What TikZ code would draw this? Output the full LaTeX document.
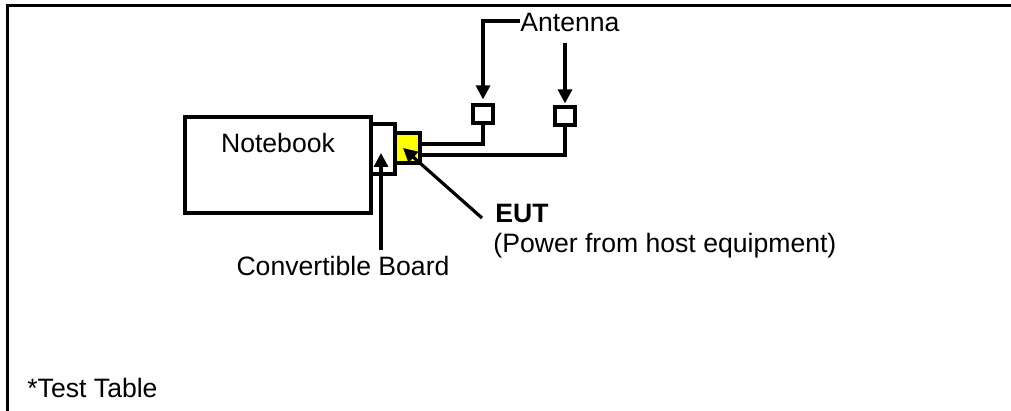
\documentclass[tikz,border=0pt]{standalone}
\usepackage{fontspec}
\setmainfont{Liberation Sans}
\usetikzlibrary{positioning,arrows.meta}
\definecolor{eutyellow}{RGB}{255,255,0}

\begin{document}
\begin{tikzpicture}[
    x=0.5pt, y=-0.5pt,
    font=\fontsize{13.3}{15}\selectfont,
    box/.style={draw, line width=1.6pt, fill=white, inner sep=0pt},
    lbl/.style={inner sep=0pt, align=left},
    wire/.style={line width=1.6pt},
    arr/.style={-{Triangle[length=7pt,width=7pt]}, line width=1.6pt},
]
\useasboundingbox (0,0) rectangle (1011,411);
% test table edge
\draw[line width=1.7pt] (1011,5.5) -- (7.5,5.5) -- (7.5,411);

\node[box, minimum width=93pt, minimum height=48pt] (notebook) at (278,165) {};
\node[box, minimum width=12pt, minimum height=25pt] (board) at (383,149) {};
\node[box, fill=eutyellow, minimum width=12.5pt, minimum height=15pt] (eut) at (407.5,148) {};
\node[box, minimum width=10pt, minimum height=9pt] (antA) at (483,114) {};
\node[box, minimum width=10pt, minimum height=9pt] (antB) at (565,116) {};

\node[lbl, anchor=base] (nbtext) at (278,153) {Notebook};
\node[lbl, anchor=base west] (anttext) at (520,32) {Antenna};
\node[lbl, anchor=base] (boardtext) at (343,275) {Convertible Board};
\node[lbl, anchor=base west] (euttext) at (495,223) {\textbf{EUT}};
\node[lbl, anchor=base west] (powertext) at (493,252) {(Power from host equipment)};
\node[lbl, anchor=base west] (tabletext) at (27,397) {*Test Table};

% cables
\draw[wire] (eut.east |- 0,144) -| (antA.south);
\draw[wire] (eut.east |- 0,155) -| (antB.south);

% pointers
\coordinate (antsplit) at (565,43);
\draw[arr] (anttext.west |- 0,21) -| ([yshift=2pt]antA.north);
\draw[arr] (antsplit) -- ([yshift=1pt]antB.north);
\coordinate (boardfoot) at (381,250);
\draw[arr] (boardfoot) -- (381,153);
\coordinate (eutfoot) at (482,218);
\draw[arr] (eutfoot) -- (403,148);
\end{tikzpicture}
\end{document}
